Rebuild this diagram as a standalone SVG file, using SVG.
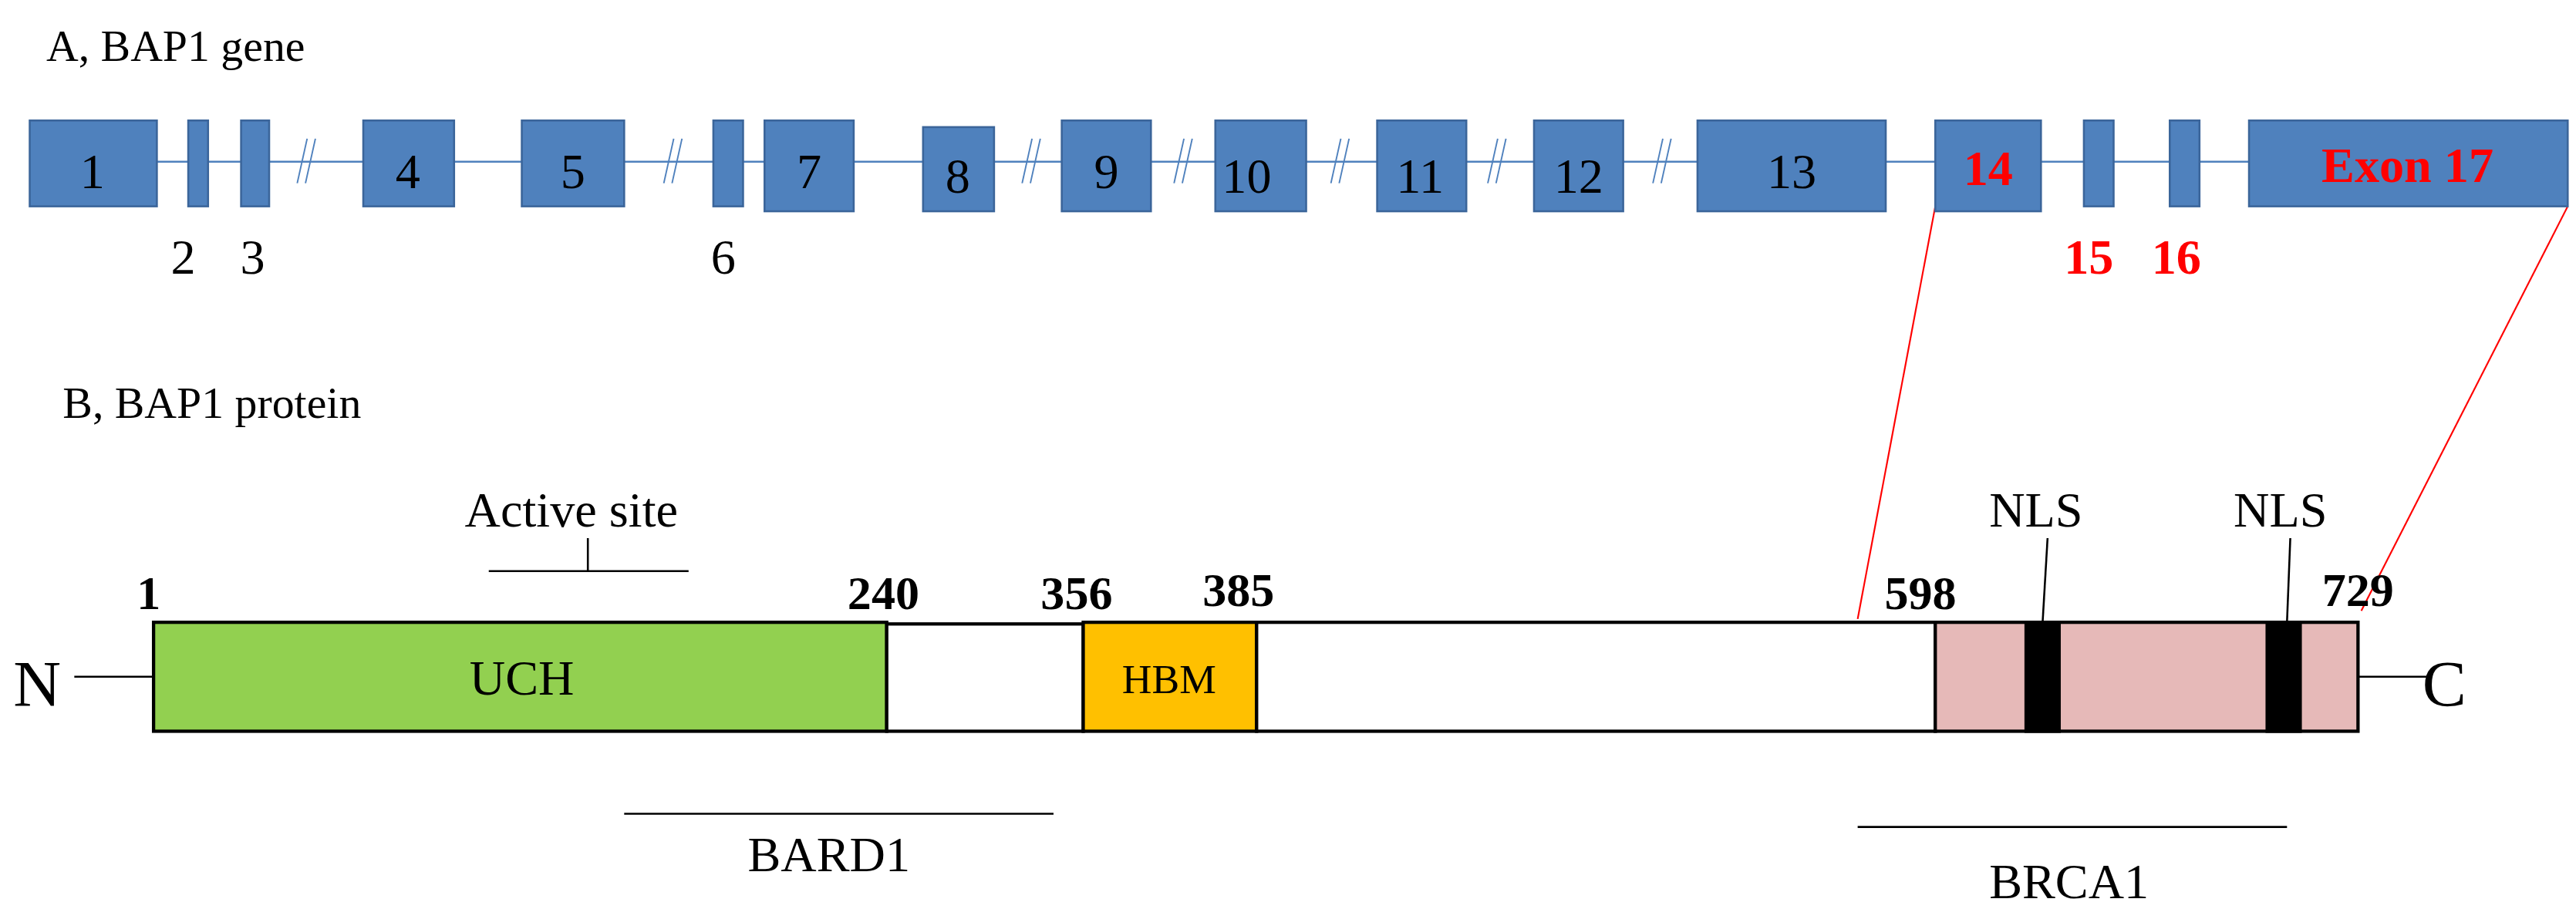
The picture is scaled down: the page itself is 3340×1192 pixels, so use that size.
<svg xmlns="http://www.w3.org/2000/svg" width="3340" height="1192" viewBox="0 0 3340 1192">
<style>
.t{font-family:"Liberation Serif","Times New Roman",serif;fill:#000}
.ex{fill:#4F81BD;stroke:#3B659A;stroke-width:1.2}
.lbl{font-family:"Liberation Serif",serif;font-size:30px;text-anchor:middle;fill:#000}
.red{fill:#FF0000;font-weight:bold}
.sl{stroke:#4F81BD;stroke-width:0.9}
.bk{stroke:#000;stroke-width:1.2;fill:none}
.num{font-family:"Liberation Serif",serif;font-size:29px;font-weight:bold;text-anchor:middle}
</style>
<rect width="3340" height="1192" fill="#fff"/>
<g transform="scale(2.141)">
<text class="t" x="28" y="37" font-size="27">A, BAP1 gene</text>
<text class="t" x="38" y="253" font-size="27">B, BAP1 protein</text>
<g id="connectors">
<line x1="18" y1="98" x2="1555" y2="98" stroke="#4F81BD" stroke-width="1.2"/>
<g class="sl">
<line x1="180" y1="111" x2="186" y2="84"/><line x1="185" y1="111" x2="191" y2="84"/>
<line x1="402" y1="111" x2="408" y2="84"/><line x1="407" y1="111" x2="413" y2="84"/>
<line x1="619" y1="111" x2="625" y2="84"/><line x1="624" y1="111" x2="630" y2="84"/>
<line x1="711" y1="111" x2="717" y2="84"/><line x1="716" y1="111" x2="722" y2="84"/>
<line x1="806" y1="111" x2="812" y2="84"/><line x1="811" y1="111" x2="817" y2="84"/>
<line x1="901" y1="111" x2="907" y2="84"/><line x1="906" y1="111" x2="912" y2="84"/>
<line x1="1001" y1="111" x2="1007" y2="84"/><line x1="1006" y1="111" x2="1012" y2="84"/>
</g>
<line x1="1172" y1="125" x2="1125" y2="375" stroke="#FF0000" stroke-width="1"/>
<line x1="1555" y1="125" x2="1430" y2="370" stroke="#FF0000" stroke-width="1"/>
<line class="bk" x1="45" y1="410" x2="93" y2="410"/>
<line class="bk" x1="1428" y1="410" x2="1470" y2="410"/>
<line class="bk" x1="296" y1="346" x2="417" y2="346"/>
<line class="bk" x1="356" y1="326" x2="356" y2="346"/>
<line class="bk" x1="1240" y1="326" x2="1237" y2="377"/>
<line class="bk" x1="1387" y1="326" x2="1385" y2="377"/>
<line class="bk" x1="378" y1="493" x2="638" y2="493"/>
<line class="bk" x1="1125" y1="501" x2="1385" y2="501"/>
</g>
<g id="exon1"><rect class="ex" x="18" y="73" width="77" height="52"/><text class="lbl" x="56" y="114">1</text></g>
<g id="exon2"><rect class="ex" x="114" y="73" width="12" height="52"/><text class="lbl" x="111" y="166">2</text></g>
<g id="exon3"><rect class="ex" x="146" y="73" width="17" height="52"/><text class="lbl" x="153" y="166">3</text></g>
<g id="exon4"><rect class="ex" x="220" y="73" width="55" height="52"/><text class="lbl" x="247" y="114">4</text></g>
<g id="exon5"><rect class="ex" x="316" y="73" width="62" height="52"/><text class="lbl" x="347" y="114">5</text></g>
<g id="exon6"><rect class="ex" x="432" y="73" width="18" height="52"/><text class="lbl" x="438" y="166">6</text></g>
<g id="exon7"><rect class="ex" x="463" y="73" width="54" height="55"/><text class="lbl" x="490" y="114">7</text></g>
<g id="exon8"><rect class="ex" x="559" y="77" width="43" height="51"/><text class="lbl" x="580" y="117">8</text></g>
<g id="exon9"><rect class="ex" x="643" y="73" width="54" height="55"/><text class="lbl" x="670" y="114">9</text></g>
<g id="exon10"><rect class="ex" x="736" y="73" width="55" height="55"/><text class="lbl" x="755" y="117">10</text></g>
<g id="exon11"><rect class="ex" x="834" y="73" width="54" height="55"/><text class="lbl" x="860" y="117">11</text></g>
<g id="exon12"><rect class="ex" x="929" y="73" width="54" height="55"/><text class="lbl" x="956" y="117">12</text></g>
<g id="exon13"><rect class="ex" x="1028" y="73" width="114" height="55"/><text class="lbl" x="1085" y="114">13</text></g>
<g id="exon14"><rect class="ex" x="1172" y="73" width="64" height="55"/><text class="lbl red" x="1204" y="112">14</text></g>
<g id="exon15"><rect class="ex" x="1262" y="73" width="18" height="52"/><text class="lbl red" x="1265" y="166">15</text></g>
<g id="exon16"><rect class="ex" x="1314" y="73" width="18" height="52"/><text class="lbl red" x="1318" y="166">16</text></g>
<g id="exon17"><rect class="ex" x="1362" y="73" width="193" height="52"/><text class="lbl red" x="1458" y="110">Exon 17</text></g>
<g id="protein" stroke="#000" stroke-width="2">
<rect x="93" y="377" width="444" height="66" fill="#92D050"/>
<rect x="537" y="378" width="119" height="65" fill="#fff"/>
<rect x="656" y="377" width="105" height="66" fill="#FFC000"/>
<rect x="761" y="377" width="411" height="66" fill="#fff"/>
<rect x="1172" y="377" width="256" height="66" fill="#E6B9B8"/>
<rect x="1227" y="377" width="20" height="66" fill="#000"/>
<rect x="1373" y="377" width="20" height="66" fill="#000"/>
</g>
<g id="labels">
<text class="t" x="8" y="428" font-size="40">N</text>
<text class="t" x="1467" y="428" font-size="40">C</text>
<text class="lbl" x="316" y="421" font-size="31">UCH</text>
<text class="lbl" x="708" y="420" style="font-size:25px">HBM</text>
<text class="lbl" x="346" y="319">Active site</text>
<text class="lbl" x="1233" y="319">NLS</text>
<text class="lbl" x="1381" y="319">NLS</text>
<text class="lbl" x="502" y="528">BARD1</text>
<text class="lbl" x="1253" y="544">BRCA1</text>
<text class="num" x="90" y="369">1</text>
<text class="num" x="535" y="369">240</text>
<text class="num" x="652" y="369">356</text>
<text class="num" x="750" y="367">385</text>
<text class="num" x="1163" y="369">598</text>
<text class="num" x="1428" y="367">729</text>
</g>
</g>
</svg>
